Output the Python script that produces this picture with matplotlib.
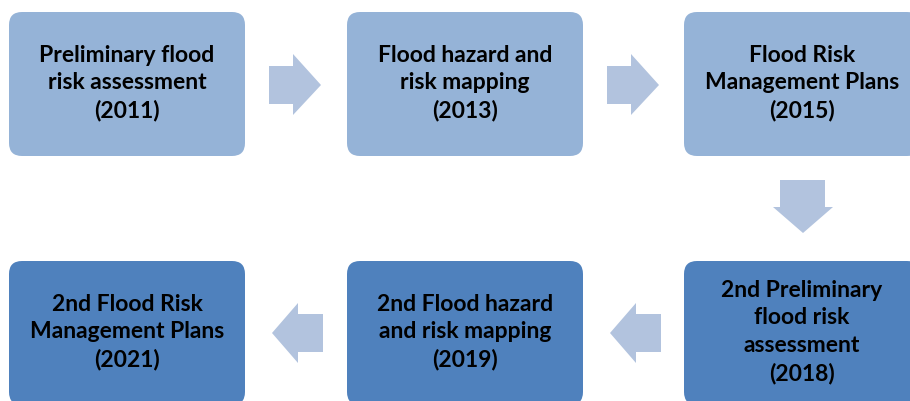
import matplotlib.pyplot as plt
from matplotlib.patches import FancyBboxPatch, Polygon

# Этапы (текст и год)
labels = [
    'Preliminary flood\nrisk assessment',
    'Flood hazard and\nrisk mapping',
    'Flood Risk\nManagement Plans',
    '2nd Preliminary\nflood risk\nassessment',
    '2nd Flood hazard\nand risk mapping',
    '2nd Flood Risk\nManagement Plans',
]
years = [2011, 2013, 2015, 2018, 2019, 2021]
arrow_dirs = ['right', 'right', 'down', 'left', 'left']

light = '#95b3d7'
dark = '#4f81bd'
arrow_color = '#b2c3de'

# Расположение блоков (левый верхний угол в пикселях)
box_w, box_h = 236, 144
box_xy = [(9, 12), (347, 12), (684, 12), (684, 261), (347, 261), (9, 261)]
arrow_xy = [(269, 85), (607, 85), (803, 180), (272, 333), (610, 333)]


def arrow_shape(x, y, d):
    # x, y — начало стрелки (хвост) или острие для левых
    if d == 'right':
        return [(x, y - 19), (x + 24, y - 19), (x + 24, y - 31), (x + 52, y),
                (x + 24, y + 30), (x + 24, y + 19), (x, y + 19)]
    if d == 'left':
        return [(x, y), (x + 26, y - 30), (x + 26, y - 19), (x + 51, y - 19),
                (x + 51, y + 19), (x + 26, y + 19), (x + 26, y + 30)]
    return [(x - 23, y), (x + 22, y), (x + 22, y + 27), (x + 30, y + 27),
            (x, y + 53), (x - 30, y + 27), (x - 23, y + 27)]


fig = plt.figure(figsize=(9.1, 4.01), dpi=100)
ax = fig.add_axes([0, 0, 1, 1])
ax.set_xlim(0, 910)
ax.set_ylim(401, 0)
ax.axis('off')

for i, (label, year) in enumerate(zip(labels, years)):
    x, y = box_xy[i]
    color = light if i < 3 else dark
    ax.add_patch(FancyBboxPatch((x, y), box_w, box_h,
                                boxstyle='round,pad=0,rounding_size=13',
                                facecolor=color, edgecolor='none'))
    ax.text(x + box_w / 2, y + box_h / 2 - 1, f'{label}\n({year})',
            ha='center', va='center', fontsize=16.5, fontweight='bold',
            family='Lato', linespacing=1.38, color='black')

for (x, y), d in zip(arrow_xy, arrow_dirs):
    ax.add_patch(Polygon(arrow_shape(x, y, d), closed=True,
                         facecolor=arrow_color, edgecolor='none'))

plt.savefig('out.png', dpi=100)
